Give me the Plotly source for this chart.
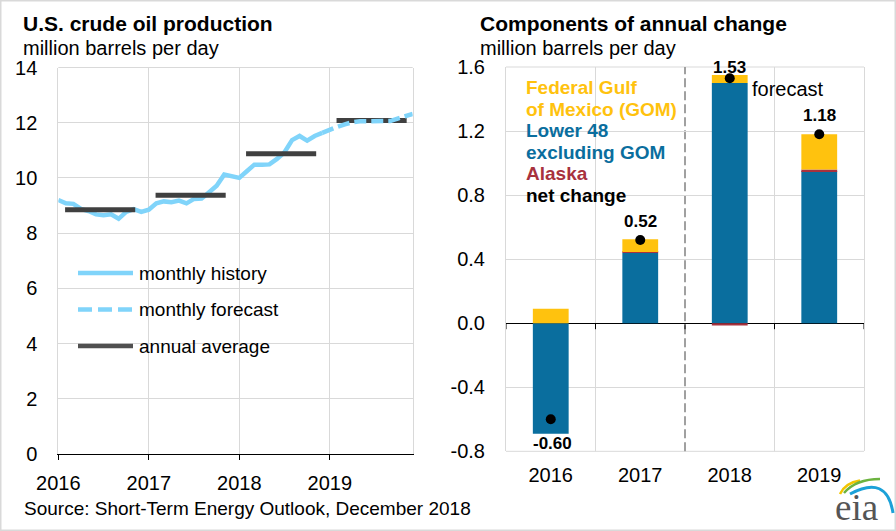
import plotly.graph_objects as go

W, H = 896, 531
FONT = "Liberation Sans, Arial, sans-serif"

# ---------------- data ----------------
years = ["2016", "2017", "2018", "2019"]
history = [9.20, 9.08, 9.06, 8.88, 8.80, 8.68, 8.65, 8.68, 8.52, 8.77, 8.87, 8.77,
           8.85, 9.08, 9.15, 9.12, 9.18, 9.08, 9.24, 9.25, 9.48, 9.72, 10.12, 10.06,
           10.00, 10.24, 10.48, 10.48, 10.49, 10.69, 10.93, 11.37, 11.52, 11.35, 11.52, 11.63]
forecast = [11.75, 11.85, 11.94, 12.02, 12.05, 12.06, 12.07, 12.08, 12.06, 12.15, 12.25, 12.32]
annual_avg = [8.85, 9.37, 10.88, 12.08]

gom = [0.09, 0.08, 0.05, 0.22]
lower48 = [-0.69, 0.44, 1.50, 0.95]
alaska = [0.0, 0.005, -0.015, 0.01]
net_change = [-0.60, 0.52, 1.53, 1.18]

left_yticks = [0, 2, 4, 6, 8, 10, 12, 14]
right_yticks = [-0.8, -0.4, 0.0, 0.4, 0.8, 1.2, 1.6]

# ---------------- colours ----------------
C_LIGHT = "#80D4FA"
C_AVG = "#404040"
C_BLUE = "#0A6E9E"
C_YEL = "#FFC20E"
C_RED = "#A8323E"
C_GRID = "#D9D9D9"


def px(x):
    return x / W


def py(y):
    return 1 - y / H


LDOM_X = [px(58.3), px(412.7)]
LDOM_Y = [py(454), py(67.5)]
RDOM_X = [px(506), px(864)]
RDOM_Y = [py(451.3), py(67)]

fig = go.Figure()

# ---------- left chart ----------
n_hist = len(history)
hist_x = list(range(n_hist))
fc_x = list(range(n_hist - 1, n_hist + len(forecast)))
fc_y = [history[-1]] + forecast

fig.add_trace(go.Scatter(x=hist_x, y=history, mode="lines",
                         line=dict(color=C_LIGHT, width=4.5), xaxis="x", yaxis="y",
                         showlegend=False, hoverinfo="skip"))
for i, v in enumerate(annual_avg):
    fig.add_trace(go.Scatter(x=[12 * i + 0.9, 12 * i + 10.2], y=[v, v], mode="lines",
                             line=dict(color=C_AVG, width=5), xaxis="x", yaxis="y",
                             showlegend=False, hoverinfo="skip"))
fig.add_trace(go.Scatter(x=fc_x, y=fc_y, mode="lines",
                         line=dict(color=C_LIGHT, width=4.5, dash="12px,5px"),
                         xaxis="x", yaxis="y", showlegend=False, hoverinfo="skip"))

# ---------- right chart ----------
xc = list(range(len(years)))
fig.add_trace(go.Bar(x=xc, y=lower48, marker=dict(color=C_BLUE, line=dict(width=0)),
                     width=0.4, xaxis="x2", yaxis="y2", showlegend=False, hoverinfo="skip"))
fig.add_trace(go.Bar(x=xc, y=alaska, marker=dict(color=C_RED, line=dict(width=0)),
                     width=0.4, xaxis="x2", yaxis="y2", showlegend=False, hoverinfo="skip"))
fig.add_trace(go.Bar(x=xc, y=gom, marker=dict(color=C_YEL, line=dict(width=0)),
                     width=0.4, xaxis="x2", yaxis="y2", showlegend=False, hoverinfo="skip"))
fig.add_trace(go.Scatter(x=xc, y=net_change, mode="markers",
                         marker=dict(color="black", size=10, symbol="circle"),
                         xaxis="x2", yaxis="y2", showlegend=False, hoverinfo="skip"))

tickfont = dict(family=FONT, size=20, color="black")

fig.update_layout(
    template="none",
    width=W, height=H, autosize=False,
    margin=dict(l=0, r=0, t=0, b=0, pad=0, autoexpand=False),
    paper_bgcolor="white", plot_bgcolor="white",
    barmode="relative", showlegend=False,
    xaxis=dict(domain=LDOM_X, range=[0, 47], tickmode="array",
               tickvals=[0, 12, 24, 36], ticktext=years,
               showgrid=True, gridcolor=C_GRID, gridwidth=1,
               showline=True, linecolor="black", linewidth=1,
               ticks="outside", ticklen=5, tickcolor="black",
               ticklabelstandoff=6, tickfont=tickfont, zeroline=False, anchor="y",
               automargin=False),
    yaxis=dict(domain=LDOM_Y, range=[0, 14], tickmode="array", tickvals=left_yticks,
               showgrid=True, gridcolor=C_GRID, gridwidth=1,
               showline=True, linecolor=C_GRID, mirror=True, ticks="",
               ticklabelstandoff=16, tickfont=tickfont, zeroline=False, anchor="x",
               automargin=False),
    xaxis2=dict(domain=RDOM_X, range=[-0.5, 3.5], tickmode="array",
                tickvals=xc, ticktext=years, showgrid=False, showline=False,
                ticks="", ticklabelstandoff=10, tickfont=tickfont, zeroline=False, anchor="y2",
                automargin=False),
    yaxis2=dict(domain=RDOM_Y, range=[-0.8, 1.6], tickmode="array", tickvals=right_yticks,
                ticktext=[f"{v:.1f}" for v in right_yticks],
                showgrid=True, gridcolor=C_GRID, gridwidth=1,
                showline=True, linecolor=C_GRID, mirror=True, ticks="",
                ticklabelstandoff=16, tickfont=tickfont,
                zeroline=True, zerolinecolor="black", zerolinewidth=1, anchor="x2",
                automargin=False),
)

shapes = []
# top border of left plot
shapes.append(dict(type="line", xref="x domain", yref="y domain", x0=0, x1=1, y0=1, y1=1,
                   line=dict(color=C_GRID, width=1), layer="below"))
# top & bottom border of right plot
for yy in (0, 1):
    shapes.append(dict(type="line", xref="x2 domain", yref="y2 domain", x0=0, x1=1, y0=yy, y1=yy,
                       line=dict(color=C_GRID, width=1), layer="below"))
# vertical grid lines on right plot
for xv in (0.5, 2.5):
    shapes.append(dict(type="line", xref="x2", yref="y2 domain", x0=xv, x1=xv, y0=0, y1=1,
                       line=dict(color=C_GRID, width=1), layer="below"))
# forecast divider
shapes.append(dict(type="line", xref="x2", yref="y2 domain", x0=1.5, x1=1.5, y0=0, y1=1,
                   line=dict(color="#A0A0A0", width=2, dash="9px,4px"), layer="below"))
# tick marks on zero line
for xv in (-0.5, 0.5, 1.5, 2.5, 3.5):
    shapes.append(dict(type="line", xref="x2", yref="y2", ysizemode="pixel", yanchor=0,
                       x0=xv, x1=xv, y0=0, y1=-6, line=dict(color="black", width=1)))

# left legend swatches
shapes.append(dict(type="line", xref="paper", yref="paper", x0=px(78), x1=px(133),
                   y0=py(273), y1=py(273), line=dict(color=C_LIGHT, width=4.5)))
shapes.append(dict(type="line", xref="paper", yref="paper", x0=px(78), x1=px(133),
                   y0=py(309.5), y1=py(309.5), line=dict(color=C_LIGHT, width=4.5, dash="14px,6px")))
shapes.append(dict(type="line", xref="paper", yref="paper", x0=px(78), x1=px(133),
                   y0=py(346), y1=py(346), line=dict(color="#505050", width=4.5)))

# outer border
shapes.append(dict(type="rect", xref="paper", yref="paper", x0=0, x1=1, y0=0, y1=1,
                   line=dict(color="#D9D9D9", width=3)))

# eia logo arcs
logo_paths = [
    ("M {} {} Q {} {} {} {}".format(px(840), py(494), px(845), py(483), px(860), py(480.5)), "#F2C500", 2.5),
    ("M {} {} Q {} {} {} {}".format(px(844), py(493), px(856), py(479), px(880), py(479)), "#6CB33F", 2.5),
    ("M {} {} Q {} {} {} {}".format(px(850), py(494), px(887), py(474), px(893), py(513)), "#1BA1D8", 3),
]
for d, col, w in logo_paths:
    shapes.append(dict(type="path", xref="paper", yref="paper", path=d,
                       line=dict(color=col, width=w)))

fig.update_layout(shapes=shapes)

ann = []


def text(x, y, s, size, color="black", bold=False, xanchor="left", family=FONT, yanchor="middle"):
    if bold:
        s = f"<b>{s}</b>"
    ann.append(dict(x=px(x), y=py(y), xref="paper", yref="paper", text=s, showarrow=False,
                    xanchor=xanchor, yanchor=yanchor,
                    font=dict(family=family, size=size, color=color)))


text(21, 23.5, "U.S. crude oil production", 21, bold=True)
text(21, 47.5, "million barrels per day", 20)
text(478, 23.5, "Components of annual change", 21, bold=True)
text(478, 47.5, "million barrels per day", 20)
text(22, 508, "Source: Short-Term Energy Outlook, December 2018", 19)

text(137, 273, "monthly history", 19)
text(137, 309.5, "monthly forecast", 19)
text(137, 346, "annual average", 19)

text(524, 88, "Federal Gulf", 19, C_YEL, True)
text(524, 109, "of Mexico (GOM)", 19, C_YEL, True)
text(524, 130.5, "Lower 48", 19, C_BLUE, True)
text(524, 152, "excluding GOM", 19, C_BLUE, True)
text(524, 173.5, "Alaska", 19, C_RED, True)
text(524, 195, "net change", 19, "black", True)
text(750, 89, "forecast", 20)

text(856, 530, "eia", 37, "#555555", family="Liberation Serif, Times New Roman, serif",
     xanchor="center", yanchor="bottom")

fig.update_layout(annotations=ann)

# value labels of net change
label_shift = [-24, 18, 11, 19]
for i, v in enumerate(net_change):
    fig.add_annotation(x=xc[i], y=v, xref="x2", yref="y2", text=f"<b>{v:.2f}</b>",
                       showarrow=False, yshift=label_shift[i], xshift=2 if i == 0 else 0,
                       font=dict(family=FONT, size=17, color="black"))

fig.write_html("out.html", config={"responsive": False, "displayModeBar": False},
               post_script="document.body.style.margin='0';document.body.style.overflow='hidden';")
